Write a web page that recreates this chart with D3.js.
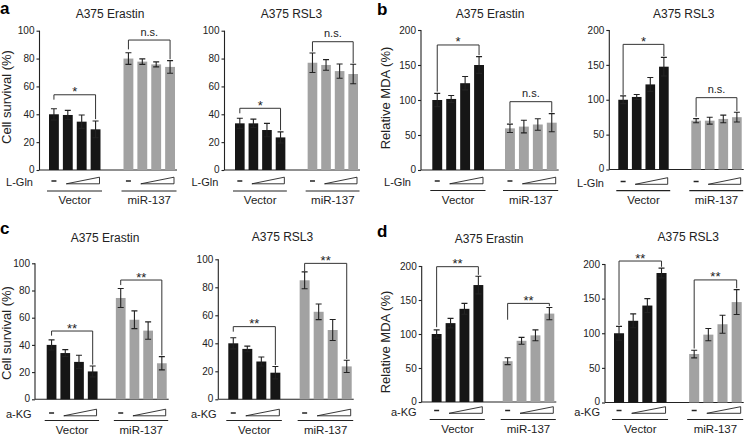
<!DOCTYPE html>
<html><head><meta charset="utf-8">
<script src="https://cdnjs.cloudflare.com/ajax/libs/d3/7.8.5/d3.min.js"></script>
<style>
body{margin:0;background:#fff;}
svg{display:block;font-family:"Liberation Sans",Arial,Helvetica,sans-serif;}
</style></head>
<body><svg id="chart" width="752" height="436"></svg>
<script>
// ---------- data ----------
const groups = ["Vector", "miR-137"];
const doseLevels = ["none", "low", "mid", "high"];
const survivalTicks = [0, 20, 40, 60, 80, 100];
const mdaTicks = [0, 50, 100, 150, 200];
const panelTitles = ["A375 Erastin", "A375 RSL3"];
const yLabels = ["Cell survival (%)", "Relative MDA (%)"];
const treatments = ["L-Gln", "a-KG"];
const panelLetters = ["a", "b", "c", "d"];

// a: cell survival, L-Gln
const aErastinMean = [[40, 39.5, 34.7, 29.2], [80, 77.8, 75.8, 74]];
const aErastinErr  = [[4, 3.3, 4.8, 6], [4.2, 2, 1.8, 4.5]];
const aErastinSig  = [[54, 50.5, 36.5, "*"], [93.3, 86.6, 79.5, "n.s."]];
const aRSL3Mean = [[33.5, 33.5, 28.7, 23.4], [77, 75.4, 71, 68.9]];
const aRSL3Err  = [[3.6, 3, 4.8, 4], [7, 3.8, 5.1, 7]];
const aRSL3Sig  = [[44.3, 40.7, 28.5, "*"], [92.1, 85, 76.6, "n.s."]];
// b: relative MDA, L-Gln
const bErastinMean = [[100, 101.5, 124, 150], [59.5, 62, 65, 67.6]];
const bErastinErr  = [[9.5, 5, 9.5, 12], [6, 9, 8.3, 13]];
const bErastinSig  = [[178.6, 112, 164, "*"], [97.6, 67, 82, "n.s."]];
const bRSL3Mean = [[100, 104, 122, 147.4], [70, 70, 72.5, 75]];
const bRSL3Err  = [[5.5, 3.6, 10, 13.4], [3, 5, 5.5, 7]];
const bRSL3Sig  = [[179.4, 107, 162.7, "*"], [103, 75.6, 84, "n.s."]];
// c: cell survival, a-KG
const cErastinMean = [[40, 34, 27.5, 20.5], [74.5, 58.5, 50.5, 26.5]];
const cErastinErr  = [[3.7, 2.5, 4.9, 4], [7, 6.5, 6.4, 4.9]];
const cErastinSig  = [[50.2, 46.8, 25.5, "**"], [87.7, 84, 32.3, "**"]];
const cRSL3Mean = [[40, 36, 27, 19], [85, 62.5, 49.5, 23.5]];
const cRSL3Err  = [[4, 2, 3.2, 4.4], [6, 5.6, 7.5, 4.4]];
const cRSL3Sig  = [[51.9, 48.3, 24.5, "**"], [97.1, 91.2, 28.8, "**"]];
// d: relative MDA, a-KG
const dErastinMean = [[100, 116, 137, 172], [60, 90, 98, 130]];
const dErastinErr  = [[6, 7, 8, 13], [5, 5, 8, 9]];
const dErastinSig  = [[199, 110, 187, "**"], [145, 121, 141, "**"]];
const dRSL3Mean = [[100, 118, 140, 187], [70, 98, 113, 145]];
const dRSL3Err  = [[10, 10, 10, 7], [5.5, 8.8, 13, 18]];
const dRSL3Sig  = [[204.3, 112, 196, "**"], [177, 78, 165, "**"]];

// ---------- layout (positions only) ----------
const panels = [
  {mean:aErastinMean, err:aErastinErr, sig:aErastinSig, ticks:survivalTicks, title:panelTitles[0], ylab:yLabels[0], treat:treatments[0], letter:panelLetters[0],
   axisX:39.5, barStart:49, barEnd:175, gap:23, zeroY:170, topY:30.7, titleX:110, titleY:13.3, doseY:182, doseX:33, underY:191, groupY:200, ylabX:6.5, ylabY:97, letterX:0, letterY:14},
  {mean:aRSL3Mean, err:aRSL3Err, sig:aRSL3Sig, ticks:survivalTicks, title:panelTitles[1], ylab:null, treat:treatments[0],
   axisX:224.5, barStart:235, barEnd:358, gap:22.3, zeroY:170, topY:30.7, titleX:291.5, titleY:13.3, doseY:182, doseX:218.3, underY:191, groupY:200},
  {mean:bErastinMean, err:bErastinErr, sig:bErastinSig, ticks:mdaTicks, title:panelTitles[0], ylab:yLabels[1], treat:treatments[0], letter:panelLetters[1],
   axisX:421, barStart:432.3, barEnd:556.7, gap:21, zeroY:170, topY:30, titleX:490, titleY:13.3, doseY:182, doseX:411, underY:190.5, groupY:200, ylabX:385, ylabY:98, letterX:377, letterY:15},
  {mean:bRSL3Mean, err:bRSL3Err, sig:bRSL3Sig, ticks:mdaTicks, title:panelTitles[1], ylab:null, treat:treatments[0],
   axisX:609.3, barStart:618.3, barEnd:741.7, gap:22.6, zeroY:169.5, topY:30, titleX:683.7, titleY:14, doseY:182.5, doseX:604, underY:190.7, groupY:200},
  {mean:cErastinMean, err:cErastinErr, sig:cErastinSig, ticks:survivalTicks, title:panelTitles[0], ylab:yLabels[0], treat:treatments[1], letter:panelLetters[2],
   axisX:35, barStart:46.7, barEnd:166.7, gap:18.3, zeroY:399.3, topY:263.3, titleX:105, titleY:238, doseY:414, doseX:31.7, underY:420.5, groupY:429.5, ylabX:6.5, ylabY:333, letterX:0, letterY:234.3},
  {mean:cRSL3Mean, err:cRSL3Err, sig:cRSL3Sig, ticks:survivalTicks, title:panelTitles[1], ylab:null, treat:treatments[1],
   axisX:218.3, barStart:228.3, barEnd:351.7, gap:19.3, zeroY:399.3, topY:259.3, titleX:282.5, titleY:236.7, doseY:414, doseX:216.7, underY:420.5, groupY:429.5},
  {mean:dErastinMean, err:dErastinErr, sig:dErastinSig, ticks:mdaTicks, title:panelTitles[0], ylab:yLabels[1], treat:treatments[1], letter:panelLetters[3],
   axisX:421.7, barStart:431.7, barEnd:554.3, gap:19.4, zeroY:402, topY:266, titleX:489, titleY:239, doseY:411.5, doseX:416.7, underY:419.5, groupY:429, ylabX:385, ylabY:342, letterX:377, letterY:236.7},
  {mean:dRSL3Mean, err:dRSL3Err, sig:dRSL3Sig, ticks:mdaTicks, title:panelTitles[1], ylab:null, treat:treatments[1],
   axisX:605, barStart:614, barEnd:741.7, gap:22.6, zeroY:402.5, topY:264, titleX:688.3, titleY:236.7, doseY:411.5, doseX:600, underY:419.5, groupY:429}
];

const barColors = ["#161616", "#a2a2a2"];
const ink = "#222";

const svg = d3.select("#chart");

panels.forEach(p => {
  const g = svg.append("g");
  const maxV = p.ticks[p.ticks.length - 1];
  const y = d3.scaleLinear().domain([0, maxV]).range([p.zeroY, p.topY]);
  const span = p.barEnd - p.barStart;
  const bw = (span - p.gap) / 2;
  const outer = d3.scaleBand().domain(groups).range([p.barStart, p.barEnd])
    .paddingInner(p.gap / (bw + p.gap)).paddingOuter(0);
  const inner = d3.scaleBand().domain(doseLevels).range([0, outer.bandwidth()])
    .paddingInner(0.29).paddingOuter(0);

  // y axis
  const yAxis = d3.axisLeft(y).tickValues(p.ticks).tickSize(3).tickPadding(2);
  const ax = g.append("g").attr("transform", `translate(${p.axisX},0)`).call(yAxis);
  ax.select(".domain").attr("stroke", ink).attr("stroke-width", 1.1).attr("d", `M0,${p.zeroY}V${p.topY}`);
  ax.selectAll(".tick line").attr("stroke", ink).attr("stroke-width", 1.1);
  ax.selectAll(".tick text").attr("fill", "#222").style("font-size", "10px")
    .style("font-family", '"Liberation Sans",Arial,sans-serif');
  ax.selectAll(".tick text").filter(d => d === 0).attr("dy", "0.2em");
  // x baseline
  g.append("line").attr("x1", p.axisX).attr("x2", p.barEnd + 2)
    .attr("y1", p.zeroY).attr("y2", p.zeroY).attr("stroke", ink).attr("stroke-width", 1.1);

  // bars
  groups.forEach((grp, gi) => {
    const gx = outer(grp);
    doseLevels.forEach((d, di) => {
      const v = p.mean[gi][di], e = p.err[gi][di];
      const x0 = gx + inner(d), cx = x0 + inner.bandwidth() / 2;
      g.append("rect").attr("x", x0).attr("width", inner.bandwidth())
        .attr("y", y(v)).attr("height", y(0) - y(v)).attr("fill", barColors[gi]);
      const cap = 3;
      g.append("path").attr("d",
        `M${cx},${y(v + e)}V${y(v - e)}M${cx - cap},${y(v + e)}H${cx + cap}M${cx - cap},${y(v - e)}H${cx + cap}`)
        .attr("stroke", ink).attr("stroke-width", 1.1).attr("fill", "none");
    });
    // significance bracket
    const [top, lEnd, rEnd, lab] = p.sig[gi];
    const xl = gx + inner(doseLevels[0]) + inner.bandwidth() / 2;
    const xr = gx + inner(doseLevels[3]) + inner.bandwidth() / 2;
    g.append("path").attr("d", `M${xl},${y(lEnd)}V${y(top)}H${xr}V${y(rEnd)}`)
      .attr("stroke", "#333").attr("stroke-width", 1).attr("fill", "none");
    const isStar = lab.indexOf("*") >= 0;
    g.append("text").attr("x", (xl + xr) / 2).attr("y", y(top) - (isStar ? -1.5 : 4.5))
      .attr("text-anchor", "middle").attr("fill", "#222")
      .style("font-size", isStar ? "13px" : "11px").text(lab);

    // dose indicators
    const c1 = gx + inner(doseLevels[0]) + inner.bandwidth() / 2;
    g.append("line").attr("x1", c1 - 2.5).attr("x2", c1 + 2.5)
      .attr("y1", p.doseY - 1).attr("y2", p.doseY - 1).attr("stroke", ink).attr("stroke-width", 1.5);
    const tl = gx + inner(doseLevels[1]) + inner.bandwidth() / 2 - 1.5;
    const tr = gx + inner(doseLevels[3]) + inner.bandwidth() - 1;
    g.append("path").attr("d", `M${tl},${p.doseY + 1.8}H${tr}V${p.doseY - 4.8}Z`)
      .attr("fill", "#fff").attr("stroke", ink).attr("stroke-width", 0.9);
    // underline and group label
    g.append("line").attr("x1", gx - 2).attr("x2", gx + outer.bandwidth() + 1.5)
      .attr("y1", p.underY).attr("y2", p.underY).attr("stroke", ink).attr("stroke-width", 1.2);
    g.append("text").attr("x", gx + outer.bandwidth() / 2).attr("y", p.groupY)
      .attr("dy", "0.35em").attr("text-anchor", "middle").attr("fill", "#222")
      .style("font-size", "11.5px").text(grp);
  });

  // treatment label
  g.append("text").attr("x", p.doseX).attr("y", p.doseY).attr("dy", "0.4em")
    .attr("text-anchor", "end").attr("fill", "#222").style("font-size", "11px").text(p.treat);
  // title
  g.append("text").attr("x", p.titleX).attr("y", p.titleY).attr("dy", "0.35em")
    .attr("text-anchor", "middle").attr("fill", "#222").style("font-size", "12px").text(p.title);
  // y label
  if (p.ylab) {
    g.append("text").attr("transform", `translate(${p.ylabX},${p.ylabY}) rotate(-90)`)
      .attr("dy", "0.35em").attr("text-anchor", "middle").attr("fill", "#222")
      .style("font-size", "13px").text(p.ylab);
  }
  if (p.letter) {
    g.append("text").attr("x", p.letterX).attr("y", p.letterY).attr("fill", "#000")
      .style("font-size", "17px").style("font-weight", "bold").text(p.letter);
  }
});
</script>
</body></html>
